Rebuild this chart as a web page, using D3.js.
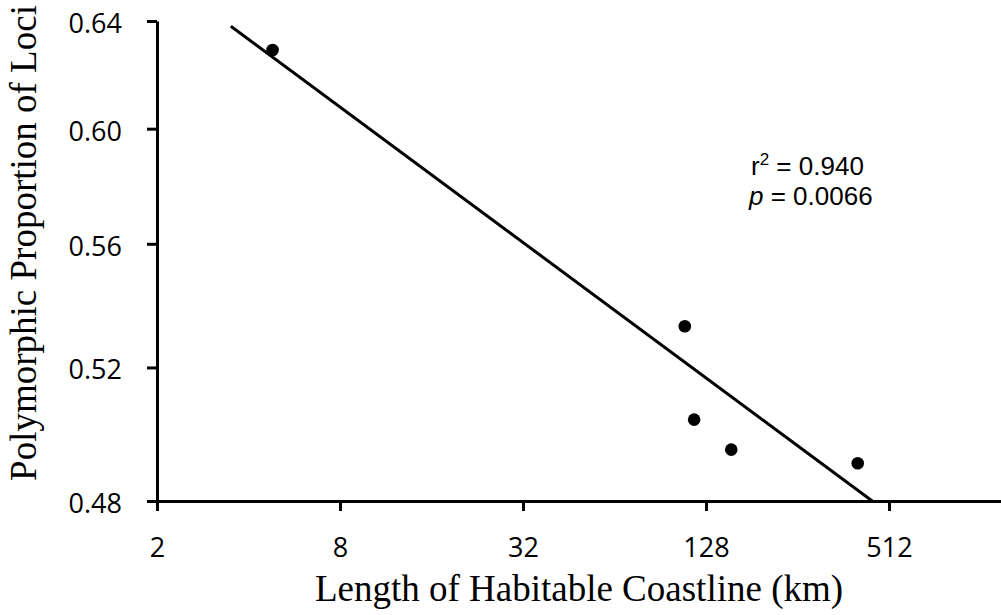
<!DOCTYPE html>
<html>
<head>
<meta charset="utf-8">
<script src="https://cdn.jsdelivr.net/npm/d3@7"></script>
<style>
  body { margin: 0; background: #fff; }
</style>
</head>
<body>
<div class="chart"></div>
<script>
// values
var coastKm = [4.8, 109, 117, 155, 404];
var polyProp = [0.629, 0.533, 0.504, 0.495, 0.491];

// fitted line end points
var fitKm = [3.5, 451];
var fitProp = [0.638, 0.48];

var xTicks = [2, 8, 32, 128, 512];
var yTicks = [0.48, 0.52, 0.56, 0.60, 0.64];

var svgWidth = 1001;
var svgHeight = 615;

var svg = d3.select(".chart")
  .append("svg")
  .attr("width", svgWidth)
  .attr("height", svgHeight);

// both axes are log scales
var x = d3.scaleLog().base(2)
  .domain([2, 2048])
  .range([157, 1072]);

var y = d3.scaleLog()
  .domain([0.48, 0.64])
  .range([501, 21]);

// x axis
svg.append("g")
  .attr("transform", "translate(0," + y(0.48) + ")")
  .call(d3.axisBottom(x).tickValues(xTicks).tickFormat(d3.format("d"))
    .tickSize(10).tickSizeOuter(0).tickPadding(27));

// y axis
var yAxis = svg.append("g")
  .attr("transform", "translate(" + x(2) + ",0)")
  .call(d3.axisLeft(y).tickValues(yTicks).tickFormat(d3.format(".2f"))
    .tickSize(10).tickSizeOuter(0).tickPadding(25));

yAxis.selectAll(".tick text").attr("dy", "0.42em");

svg.selectAll(".domain, .tick line")
  .attr("stroke", "black")
  .attr("stroke-width", 3);

svg.selectAll(".tick text")
  .attr("font-family", "'Open Sans', sans-serif")
  .attr("font-size", "27px")
  .attr("fill", "black");

// regression line
var line = d3.line()
  .x(function(d) { return x(d[0]); })
  .y(function(d) { return y(d[1]); });

svg.append("path")
  .datum(d3.zip(fitKm, fitProp))
  .attr("d", line)
  .attr("fill", "none")
  .attr("stroke", "black")
  .attr("stroke-width", 3);

// points
svg.selectAll("circle")
  .data(d3.zip(coastKm, polyProp))
  .enter()
  .append("circle")
  .attr("cx", function(d) { return x(d[0]); })
  .attr("cy", function(d) { return y(d[1]); })
  .attr("r", 6.3)
  .attr("fill", "black");

// stats text
var r2 = svg.append("text")
  .attr("x", 751)
  .attr("y", 175)
  .attr("font-family", "'Liberation Sans', Arial, sans-serif")
  .attr("font-size", "26px");
r2.append("tspan").text("r");
r2.append("tspan").attr("dy", -10).attr("font-size", "17px").text("2");
r2.append("tspan").attr("dy", 10).text(" = 0.940");

var pv = svg.append("text")
  .attr("x", 749)
  .attr("y", 205)
  .attr("font-family", "'Liberation Sans', Arial, sans-serif")
  .attr("font-size", "26px");
pv.append("tspan").attr("font-style", "italic").text("p");
pv.append("tspan").text(" = 0.0066");

// axis titles
svg.append("text")
  .attr("x", 579)
  .attr("y", 601)
  .attr("text-anchor", "middle")
  .attr("font-family", "'Liberation Serif', 'Times New Roman', serif")
  .attr("font-size", "37px")
  .text("Length of Habitable Coastline (km)");

svg.append("text")
  .attr("transform", "translate(36,243) rotate(-90)")
  .attr("text-anchor", "middle")
  .attr("font-family", "'Liberation Serif', 'Times New Roman', serif")
  .attr("font-size", "37px")
  .text("Polymorphic Proportion of Loci");
</script>
</body>
</html>
